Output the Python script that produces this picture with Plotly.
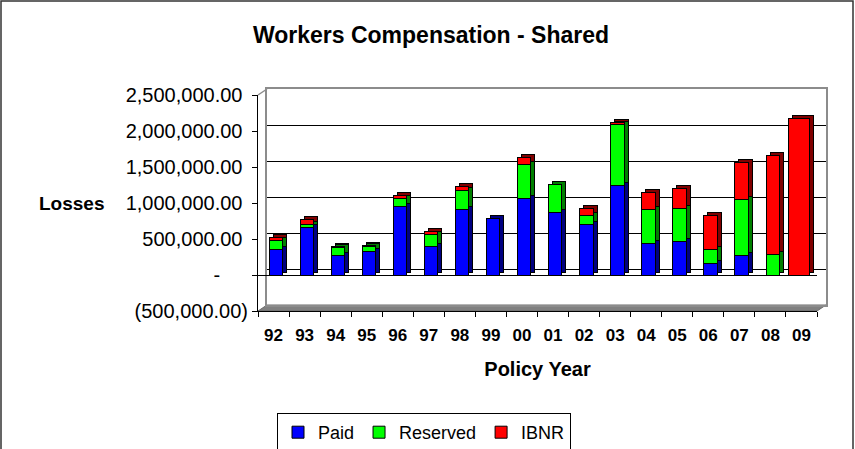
import plotly.graph_objects as go

# ---------------- data ----------------
years = ["92", "93", "94", "95", "96", "97", "98", "99", "00",
         "01", "02", "03", "04", "05", "06", "07", "08", "09"]
paid = [355000, 665000, 265000, 330000, 955000, 400000, 910000, 780000, 1065000,
        865000, 695000, 1245000, 440000, 460000, 155000, 275000, 0, 0]
reserved = [125000, 40000, 115000, 60000, 110000, 165000, 265000, 0, 463000,
            395000, 125000, 850000, 470000, 470000, 195000, 770000, 285000, 0]
ibnr = [35000, 65000, 15000, 15000, 40000, 45000, 60000, 8000, 105000,
        0, 110000, 30000, 240000, 270000, 470000, 515000, 1380000, 2175000]
series_names = ["Paid", "Reserved", "IBNR"]
y_ticks = [-500000, 0, 500000, 1000000, 1500000, 2000000, 2500000]
grid_vals = [0, 500000, 1000000, 1500000, 2000000]

# ---------------- styling ----------------
W, H = 855, 449
FONT = "Liberation Sans, Arial, sans-serif"
front_cols = ["#0000FF", "#00FF00", "#FF0000"]
side_cols = ["#000080", "#008000", "#800000"]


def px(x):
    return x / W


def py(y):
    return 1 - y / H


NB = "\u00a0"


def fmt(v):
    if v == 0:
        return "-" + NB * 5
    if v < 0:
        return "({:,.2f})".format(-v)
    return "{:,.2f}".format(v) + NB


n = len(years)
bar_w = [0.43] * (n - 1) + [0.70]
bar_off = [-0.142] * (n - 1) + [-0.43]

# front plot region (pixels)
FX0, FX1 = 258, 817
FYT, FYB = 95, 311
# back wall offset / bar depth offset
BDX, BDY = 9, 6
SDX, SDY = 4, 3

fig = go.Figure()
values = [paid, reserved, ibnr]

# empty helper trace so the back-wall axis pair gets drawn
fig.add_trace(go.Scatter(x=years, y=[None] * n, xaxis="x", yaxis="y",
                         mode="markers", showlegend=False, hoverinfo="skip"))

# depth (side/top faces) copies
for name, vals, col in zip(series_names, values, side_cols):
    fig.add_trace(go.Bar(
        x=years, y=vals, name=name, xaxis="x2", yaxis="y2",
        marker=dict(color=col, line=dict(color="black", width=1)),
        width=bar_w, offset=bar_off, showlegend=False, hoverinfo="skip"))

# front faces
for name, vals, col in zip(series_names, values, front_cols):
    fig.add_trace(go.Bar(
        x=years, y=vals, name=name, xaxis="x3", yaxis="y3",
        marker=dict(color=col, line=dict(color="black", width=1)),
        width=bar_w, offset=bar_off))

yr = [-500000, 2500000]
xr = [-0.5, n - 0.5]

fig.update_layout(
    width=W, height=H,
    margin=dict(l=0, r=0, t=0, b=0, autoexpand=False),
    paper_bgcolor="white",
    plot_bgcolor="rgba(0,0,0,0)",
    barmode="stack",
    font=dict(family=FONT, color="black"),
    title=dict(text="Workers Compensation - Shared", x=px(431), y=py(35),
               xanchor="center", yanchor="middle",
               font=dict(size=23, weight="bold", family=FONT, color="black")),
    # back wall
    xaxis=dict(domain=[px(FX0 + BDX), px(FX1 + BDX)], anchor="y", type="category",
               categoryarray=years, range=xr, showgrid=False, showticklabels=False,
               ticks="", showline=True, mirror=True, linecolor="#8c8c8c", linewidth=2,
               zeroline=False),
    yaxis=dict(domain=[py(FYB - BDY), py(FYT - BDY)], anchor="x", range=yr,
               tickvals=grid_vals, showticklabels=False, ticks="", showgrid=True,
               gridcolor="black", gridwidth=1, showline=True, mirror=True,
               linecolor="#8c8c8c", linewidth=2, zeroline=False),
    # depth copies
    xaxis2=dict(domain=[px(FX0 + SDX), px(FX1 + SDX)], anchor="y2", type="category",
                categoryarray=years, range=xr, visible=False),
    yaxis2=dict(domain=[py(FYB - SDY), py(FYT - SDY)], anchor="x2", range=yr,
                visible=False),
    # front axes
    xaxis3=dict(domain=[px(FX0), px(FX1)], anchor="y3", type="category",
                categoryarray=years, range=xr, showgrid=False, showline=True,
                linecolor="black", linewidth=1, ticks="outside", tickson="boundaries",
                ticklen=5, tickcolor="black", ticklabelstandoff=9,
                tickfont=dict(size=17, weight="bold", family=FONT, color="black"),
                title=dict(text="Policy Year", standoff=17,
                           font=dict(size=20, weight="bold", family=FONT, color="black")),
                zeroline=False),
    yaxis3=dict(domain=[py(FYB), py(FYT)], anchor="x3", range=yr,
                tickvals=y_ticks, ticktext=[fmt(v) for v in y_ticks],
                showgrid=False, showline=True, linecolor="black", linewidth=1,
                ticks="outside", ticklen=5, tickcolor="black",
                tickfont=dict(size=20, family=FONT, color="black"),
                zeroline=True, zerolinecolor="black", zerolinewidth=1),
    legend=dict(orientation="h", x=px(424), y=py(413), xanchor="center", yanchor="top",
                bordercolor="black", borderwidth=1, bgcolor="white",
                font=dict(size=18, family=FONT, color="black"), traceorder="normal"),
    annotations=[dict(text="Losses", x=px(71), y=py(204), xref="paper", yref="paper",
                      showarrow=False, xanchor="center", yanchor="middle",
                      font=dict(size=19, weight="bold", family=FONT, color="black"))],
    shapes=[
        # floor
        dict(type="path", xref="paper", yref="paper", layer="below",
             path="M {},{} L {},{} L {},{} L {},{} Z".format(
                 px(FX0), py(FYB), px(FX1), py(FYB),
                 px(FX1 + BDX), py(FYB - BDY), px(FX0 + BDX), py(FYB - BDY)),
             fillcolor="#808080", line=dict(color="#6a6a6a", width=1)),
        # left wall top edge
        dict(type="line", xref="paper", yref="paper", x0=px(FX0), y0=py(FYT),
             x1=px(FX0 + BDX), y1=py(FYT - BDY), line=dict(color="#8c8c8c", width=1.5)),
        # chart border
        dict(type="rect", xref="paper", yref="paper", x0=px(1), y0=py(460),
             x1=px(853), y1=py(1), line=dict(color="#333333", width=1.5)),
    ],
)

fig.write_html("out.html", config={"displayModeBar": False},
               post_script="document.body.style.margin='0';document.body.style.padding='0';")
